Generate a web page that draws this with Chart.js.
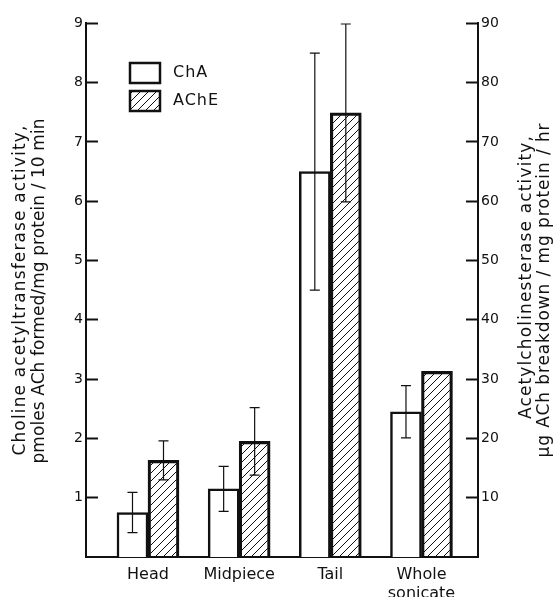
<!DOCTYPE html>
<html>
<head>
<meta charset="utf-8">
<script src="https://cdn.jsdelivr.net/npm/chart.js@4.4.1/dist/chart.umd.min.js"></script>
<style>
  html, body { margin: 0; padding: 0; background: #fff; }
</style>
</head>
<body>
<canvas id="enzymeChart" width="555" height="597"></canvas>
<script>
// sperm fractions
const fractions = ['Head', 'Midpiece', 'Tail', 'Whole sonicate'];

// choline acetyltransferase, pmoles ACh formed/mg protein/10 min (left axis)
const chaValues = [0.75, 1.15, 6.5, 2.45];
const chaErrors = [0.34, 0.38, 2.0, 0.44];

// acetylcholinesterase, ug ACh breakdown/mg protein/hr (right axis)
const acheValues = [16.3, 19.5, 74.9, 31.3];
const acheErrors = [3.3, 5.7, 15.0, 0];

const leftTicks = [1, 2, 3, 4, 5, 6, 7, 8, 9];
const rightTicks = [10, 20, 30, 40, 50, 60, 70, 80, 90];

const ink = '#111';

// diagonal hatch for the AChE bars
function makeHatch() {
    const s = 8;
    const c = document.createElement('canvas');
    c.width = s; c.height = s;
    const g = c.getContext('2d');
    g.strokeStyle = ink;
    g.lineWidth = 1;
    g.beginPath();
    g.moveTo(0, s); g.lineTo(s, 0);
    g.moveTo(-2, 2); g.lineTo(2, -2);
    g.moveTo(s - 2, s + 2); g.lineTo(s + 2, s - 2);
    g.stroke();
    return g.createPattern(c, 'repeat');
}
const hatch = makeHatch();

Chart.defaults.font.family = "'DejaVu Sans', sans-serif";
Chart.defaults.color = ink;

// error bars drawn from each bar's own position and its y scale
const errorBars = {
    id: 'errorBars',
    afterDatasetsDraw(chart) {
        const ctx = chart.ctx;
        ctx.save();
        ctx.strokeStyle = ink;
        ctx.lineWidth = 1.2;
        chart.data.datasets.forEach((ds, i) => {
            const meta = chart.getDatasetMeta(i);
            const scale = chart.scales[meta.yAxisID];
            meta.data.forEach((bar, j) => {
                const v = ds.data[j].y, e = ds.errors[j];
                if (!e) return;
                const top = scale.getPixelForValue(v + e);
                const bottom = scale.getPixelForValue(v - e);
                ctx.beginPath();
                ctx.moveTo(bar.x, top); ctx.lineTo(bar.x, bottom);
                ctx.moveTo(bar.x - 5, top); ctx.lineTo(bar.x + 5, top);
                ctx.moveTo(bar.x - 5, bottom); ctx.lineTo(bar.x + 5, bottom);
                ctx.stroke();
            });
        });
        ctx.restore();
    }
};

// boxed legend inside the plot + both rotated axis titles
const decorations = {
    id: 'decorations',
    afterDraw(chart, args, opts) {
        const ctx = chart.ctx;
        ctx.save();
        const lg = opts.legend;
        chart.data.datasets.forEach((ds, i) => {
            const y = lg.y + i * lg.step;
            ctx.fillStyle = ds.backgroundColor;
            ctx.fillRect(lg.x, y, lg.w, lg.h);
            ctx.strokeStyle = ds.borderColor;
            ctx.lineWidth = 2.5;
            ctx.strokeRect(lg.x, y, lg.w, lg.h);
            ctx.fillStyle = ink;
            ctx.font = "16px 'DejaVu Sans'";
            ctx.letterSpacing = '1px';
            ctx.textAlign = 'left';
            ctx.textBaseline = 'middle';
            ctx.fillText(ds.label, lg.x + lg.w + 13, y + lg.h / 2);
        });

        opts.titles.forEach(t => {
            ctx.font = "17px 'DejaVu Sans'";
            ctx.letterSpacing = '0px';
            const w = ctx.measureText(t.text).width;
            ctx.letterSpacing = ((t.span - w) / (t.text.length - 1)) + 'px';
            ctx.save();
            ctx.translate(t.x, t.y);
            ctx.rotate(-Math.PI / 2);
            ctx.fillStyle = ink;
            ctx.textAlign = 'center';
            ctx.textBaseline = 'middle';
            ctx.fillText(t.text, 0, 0);
            ctx.restore();
        });
        ctx.restore();
    }
};

const yAxisCommon = {
    min: 0,
    grid: { drawOnChartArea: false, drawTicks: true, tickLength: -12, tickWidth: 2, tickColor: ink },
    border: { display: true, color: ink, width: 2 },
    ticks: { padding: 15, font: { size: 14 } }
};

new Chart(document.getElementById('enzymeChart'), {
    type: 'bar',
    data: {
        datasets: [{
            label: 'ChA',
            data: chaValues.map((v, i) => ({ x: i + 1, y: v })),
            errors: chaErrors,
            yAxisID: 'y',
            backgroundColor: '#fff',
            borderColor: ink,
            borderWidth: 2.5
        }, {
            label: 'AChE',
            data: acheValues.map((v, i) => ({ x: i + 1, y: v })),
            errors: acheErrors,
            yAxisID: 'y2',
            backgroundColor: hatch,
            borderColor: ink,
            borderWidth: 2.5
        }]
    },
    options: {
        responsive: false,
        animation: false,
        barThickness: 31,
        layout: { padding: { left: 56, right: 37, top: 22, bottom: 0 } },
        scales: {
            x: {
                type: 'linear',
                min: 0.32,
                max: 4.62,
                offset: false,
                grid: { display: true, drawOnChartArea: false, drawTicks: false, offset: false },
                border: { display: true, color: ink, width: 2 },
                afterBuildTicks: s => { s.ticks = fractions.map((f, i) => ({ value: i + 1 })); },
                afterFit: s => { s.height = 40; },
                ticks: {
                    padding: 8,
                    maxRotation: 0,
                    autoSkip: false,
                    font: { size: 16 },
                    callback: v => fractions[v - 1].split(' ')
                }
            },
            y: Object.assign({}, yAxisCommon, {
                position: 'left',
                max: 9,
                afterBuildTicks: s => { s.ticks = leftTicks.map(v => ({ value: v })); },
                afterFit: s => { s.width = 30; }
            }),
            y2: Object.assign({}, yAxisCommon, {
                position: 'right',
                max: 90,
                afterBuildTicks: s => { s.ticks = rightTicks.map(v => ({ value: v })); },
                afterFit: s => { s.width = 40; }
            })
        },
        plugins: {
            legend: { display: false },
            tooltip: { enabled: false },
            decorations: {
                legend: { x: 130, y: 63, w: 30, h: 20, step: 28 },
                titles: [
                    { text: 'Choline acetyltransferase activity,', x: 21, y: 290, span: 330 },
                    { text: 'pmoles ACh formed/mg protein / 10 min', x: 40, y: 291, span: 345 },
                    { text: 'Acetylcholinesterase activity,', x: 527, y: 277, span: 283 },
                    { text: 'µg ACh breakdown / mg protein / hr', x: 545, y: 290, span: 334 }
                ]
            }
        }
    },
    plugins: [errorBars, decorations]
});
</script>
</body>
</html>
